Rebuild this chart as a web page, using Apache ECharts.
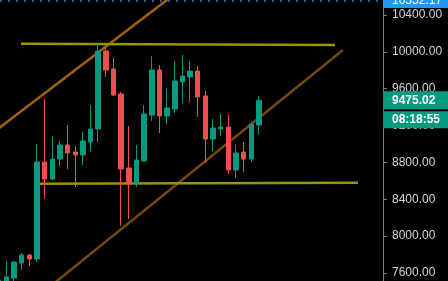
<!DOCTYPE html>
<html>
<head>
<meta charset="utf-8">
<script src="https://cdn.jsdelivr.net/npm/echarts@6/dist/echarts.min.js"></script>
<style>
html,body{margin:0;padding:0;background:#000;}
#c{width:448px;height:281px;}
</style>
</head>
<body>
<div id="c"></div>
<script>
// ---- data ----
const categories = Array.from({length: 35}, (_, i) => i); // candle slots (index positions)
const opens  = [7450,7490,7546,7709,7795,7752,8805,8620,8837,8989,8913,8881,9022,9163,10009,9814,9543,8740,8566,8815,9315,9803,9304,9380,9673,9727,9792,9521,9054,9163,9184,8718,8913,8837,9206];
const closes = [7520,7557,7719,7795,7752,8805,8620,8837,8989,8902,8881,9033,9163,10009,9803,9532,8729,8566,8826,9326,9803,9304,9391,9684,9738,9792,9510,9054,9174,9184,8718,8902,8837,9217,9475.02];
const lows   = [7420,7460,7500,7633,7676,7719,8403,8610,8761,8729,8533,8772,8924,9022,9727,9521,8110,8186,8533,8805,9250,9119,9217,9336,9445,9456,9293,8794,8924,9087,8674,8631,8696,8805,9108];
const highs  = [7560,7730,7725,7817,7806,9000,9488,9087,9033,9206,8978,9130,9423,10085,10053,9933,9564,9195,8989,9423,9955,9857,9608,9901,9966,9901,9847,9575,9271,9326,9315,8989,9022,9239,9521];
const yTicks = [7600,8000,8400,8800,9200,9600,10000,10400];
const lastPrice = 9475.02;
const highPrice = 10552.17;
const countdown = '08:18:55';
// trend lines: [candle index, price]
const resistanceLine = [[2.91,10088],[43.93,10074]];
const supportLine    = [[5.26,8569],[46.93,8580]];
const channelUpper   = [[-0.61,9131],[26.29,10837]];
const channelLower   = [[6.70,7452],[44.97,10020]];

const ohlc = categories.map((c, i) => [c, opens[i], closes[i], lows[i], highs[i]]);

const chart = echarts.init(document.getElementById('c'), null, {renderer: 'canvas'});
const lineS = (data, color, w, extra) => Object.assign({
  type: 'line', data: data, symbol: 'none',
  lineStyle: {color: color, width: w}, silent: true, clip: true, z: 1
}, extra || {});

chart.setOption({
  animation: false,
  backgroundColor: '#000000',
  grid: {left: 0, right: 62.7, top: 0, bottom: 0},
  xAxis: {type: 'value', min: 0.17, max: 50.5, show: false},
  yAxis: {
    type: 'value', position: 'right', offset: -2.3,
    min: 7513, max: 10563, scale: true,
    splitLine: {show: false},
    axisLine: {show: true, onZero: false, lineStyle: {color: '#808080', width: 1}},
    axisTick: {show: true, length: 4, lineStyle: {color: '#808080'}, customValues: yTicks},
    axisLabel: {
      customValues: yTicks, color: '#d1d4dc', fontSize: 12, margin: 9,
      fontFamily: 'Liberation Sans, Arial, sans-serif',
      formatter: v => v.toFixed(2)
    }
  },
  series: [
    lineS(channelUpper, '#a0600f', 2.5),
    lineS(channelLower, '#74480f', 2.5),
    lineS(resistanceLine, '#96960a', 2.5),
    lineS(supportLine, '#96960a', 2.5),
    lineS([[0.17, highPrice],[50.2, highPrice]], '#2f7fd8', 1.5, {lineStyle: {color: '#2f7fd8', width: 1.5, type: [2, 6]}}),
    {
      type: 'candlestick', data: ohlc,
      encode: {x: 0, y: [1, 2, 3, 4]},
      barWidth: 5, z: 3,
      itemStyle: {color: '#089981', color0: '#f0504d', borderColor: '#089981', borderColor0: '#f0504d', borderWidth: 1}
    }
  ]
});

const axisX = 383;
const yLast = chart.convertToPixel({yAxisIndex: 0}, lastPrice);
const yHigh = chart.convertToPixel({yAxisIndex: 0}, highPrice);
const font = 'bold 12px "Liberation Sans", Arial, sans-serif';
chart.setOption({
  graphic: [
    {type: 'rect', shape: {x: axisX, y: yHigh - 10, width: 65, height: 17}, style: {fill: '#2196f3'}, z: 100},
    {type: 'text', x: axisX + 9, y: yHigh - 0.5, style: {text: highPrice.toFixed(2), fill: '#ffffff', font: '12px "Liberation Sans", Arial, sans-serif', verticalAlign: 'middle'}, z: 101},
    {type: 'rect', shape: {x: axisX, y: yLast - 9, width: 65, height: 18}, style: {fill: '#089981'}, z: 100},
    {type: 'text', x: axisX + 9, y: yLast, style: {text: lastPrice.toFixed(2), fill: '#ffffff', font: font, verticalAlign: 'middle'}, z: 101},
    {type: 'rect', shape: {x: axisX, y: yLast + 11, width: 65, height: 17}, style: {fill: '#089981'}, z: 100},
    {type: 'text', x: axisX + 9, y: yLast + 19.5, style: {text: countdown, fill: '#ffffff', font: font, verticalAlign: 'middle'}, z: 101}
  ]
});
</script>
</body>
</html>
